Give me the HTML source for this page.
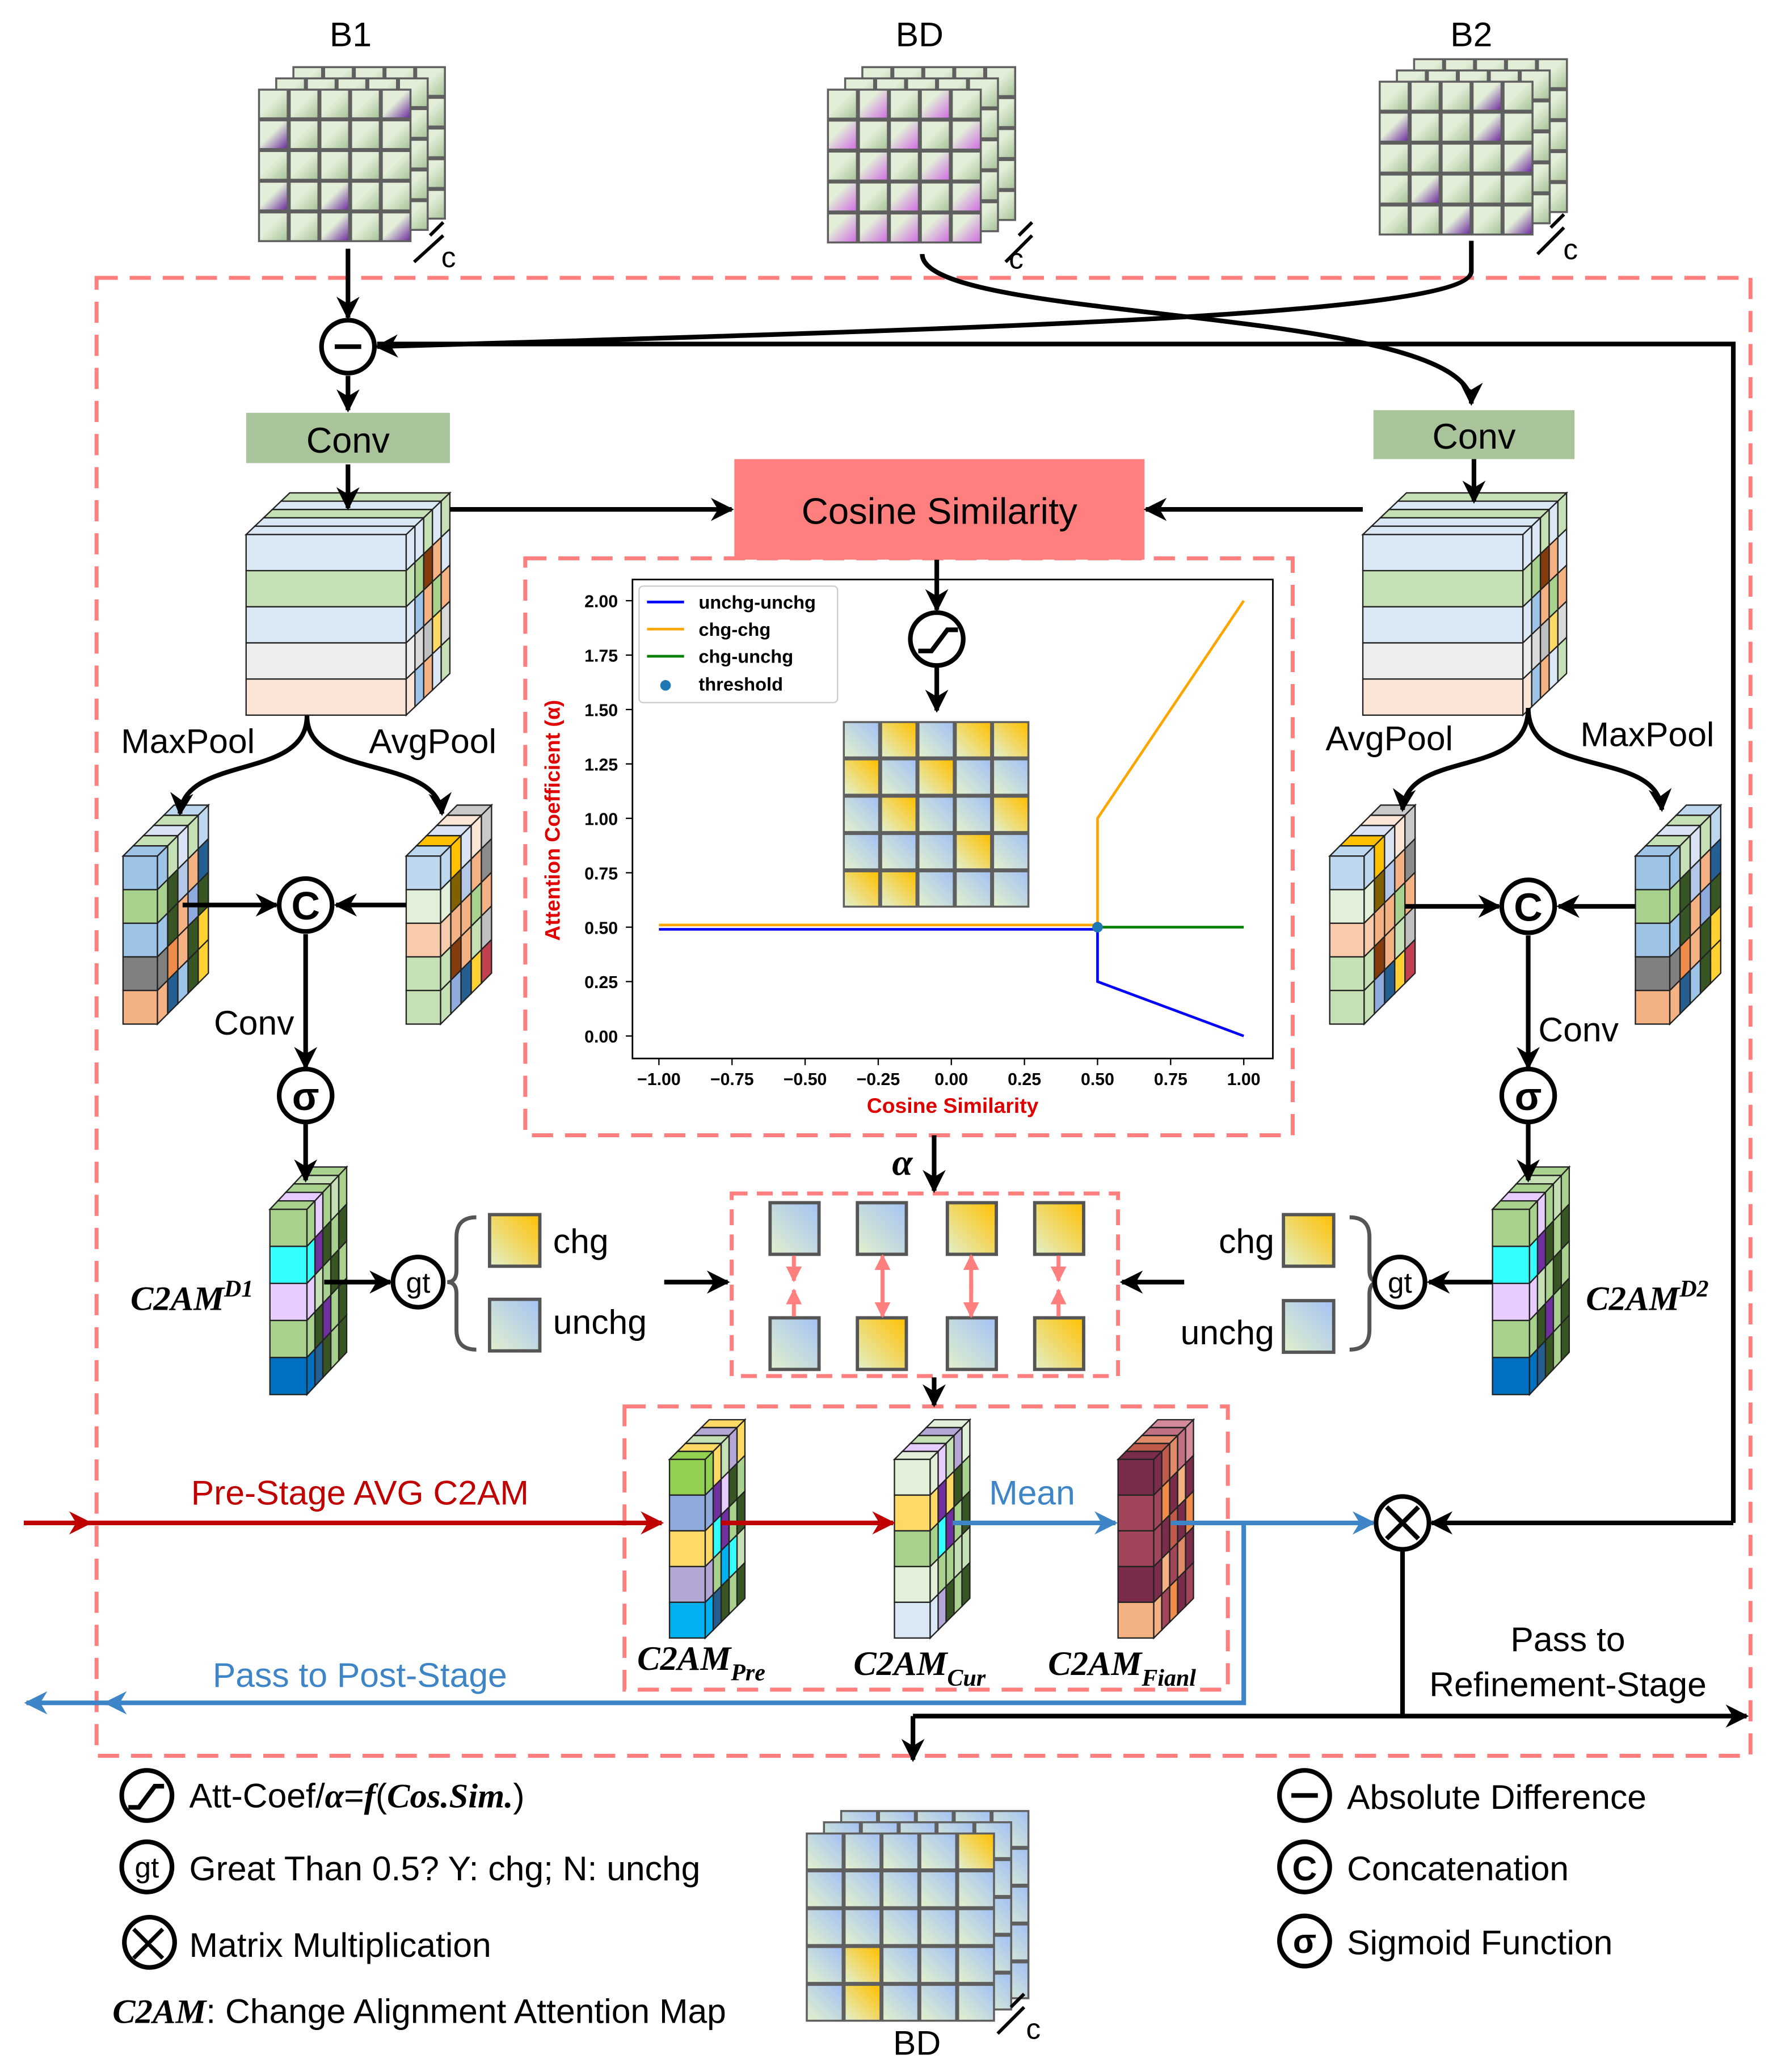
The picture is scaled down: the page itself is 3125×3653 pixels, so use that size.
<!DOCTYPE html>
<html><head><meta charset="utf-8"><style>
html,body{margin:0;padding:0;background:#fff}
svg{display:block}
text{font-family:"Liberation Sans","DejaVu Sans",sans-serif}
.s{font-family:"Liberation Serif",serif;font-style:italic;font-weight:bold}
</style></head><body>
<svg id="v" xmlns="http://www.w3.org/2000/svg" width="3125" height="3653" viewBox="0 0 1340 1566" preserveAspectRatio="none">
<defs>
<linearGradient id="gG" x1="0" y1="0" x2="1" y2="1"><stop offset="0.45" stop-color="#e2eed8"/><stop offset="1" stop-color="#a9c49a"/></linearGradient>
<linearGradient id="gP" x1="0" y1="0" x2="1" y2="1"><stop offset="0.45" stop-color="#e2eed8"/><stop offset="1" stop-color="#7030a0"/></linearGradient>
<linearGradient id="gM" x1="0" y1="0" x2="1" y2="1"><stop offset="0.35" stop-color="#e2eed8"/><stop offset="1" stop-color="#d070e0"/></linearGradient>
<linearGradient id="gY" x1="0" y1="1" x2="1" y2="0"><stop offset="0" stop-color="#e2f0cc"/><stop offset="1" stop-color="#ffc000"/></linearGradient>
<linearGradient id="gB" x1="0" y1="1" x2="1" y2="0"><stop offset="0" stop-color="#e2f0cc"/><stop offset="1" stop-color="#a4c2f4"/></linearGradient>
<marker id="ab" viewBox="0 0 10 10" refX="9" refY="5" markerWidth="5" markerHeight="5" orient="auto-start-reverse"><path d="M0,0 L10,5 L0,10 L3,5z" fill="#000"/></marker>
<marker id="ar" viewBox="0 0 10 10" refX="9" refY="5" markerWidth="5" markerHeight="5" orient="auto-start-reverse"><path d="M0,0 L10,5 L0,10 L3,5z" fill="#c00000"/></marker>
<marker id="au" viewBox="0 0 10 10" refX="9" refY="5" markerWidth="5" markerHeight="5" orient="auto-start-reverse"><path d="M0,0 L10,5 L0,10 L3,5z" fill="#3d85c6"/></marker>
<marker id="ap" viewBox="0 0 10 10" refX="9" refY="5" markerWidth="4" markerHeight="4" orient="auto-start-reverse"><path d="M0,0 L10,5 L0,10z" fill="#ff7f7f"/></marker>
</defs>
<g id="shapes"></g>
<g id="lines" fill="none" stroke="#000" stroke-width="3.5">
<rect x="73" y="210" width="1250" height="1117" stroke="#ff7f7f" stroke-dasharray="16 9" stroke-width="3"/>
<rect x="397" y="422" width="580" height="436" stroke="#ff7f7f" stroke-dasharray="16 9" stroke-width="3"/>
<rect x="553" y="902" width="292" height="138" stroke="#ff7f7f" stroke-dasharray="12 7" stroke-width="3"/>
<rect x="472" y="1063" width="456" height="214" stroke="#ff7f7f" stroke-dasharray="16 9" stroke-width="3"/>
<path d="M263 188 V240" marker-end="url(#ab)"/>
<path d="M263 284 V310" marker-end="url(#ab)"/>
<path d="M263 351 V384" marker-end="url(#ab)"/>
<path d="M1114 347 V379" marker-end="url(#ab)"/>
<path d="M697 192 C697 245,1112 230,1112 305" marker-end="url(#ab)"/>
<path d="M1112 182 V205 C1112 238,760 248,285 262" marker-end="url(#ab)"/>
<path d="M1310 1151 V260 H285"/>
<path d="M1310 1151 H1082" marker-end="url(#ab)"/>
<path d="M340 385 H553" marker-end="url(#ab)"/>
<path d="M1030 385 H866" marker-end="url(#ab)"/>
<path d="M708 423 V461" marker-end="url(#ab)"/>
<path d="M708 503 V537" marker-end="url(#ab)"/>
<path d="M232 541 C232 590,140 570,136 615" marker-end="url(#ab)"/>
<path d="M232 541 C232 590,330 570,334 615" marker-end="url(#ab)"/>
<path d="M1155 535 C1155 590,1064 565,1060 612" marker-end="url(#ab)"/>
<path d="M1155 535 C1155 590,1252 565,1256 612" marker-end="url(#ab)"/>
<path d="M138 684 H209" marker-end="url(#ab)"/>
<path d="M307 684 H254" marker-end="url(#ab)"/>
<path d="M1062 685 H1133" marker-end="url(#ab)"/>
<path d="M1236 685 H1178" marker-end="url(#ab)"/>
<path d="M231 706 V807" marker-end="url(#ab)"/>
<path d="M1155 707 V807" marker-end="url(#ab)"/>
<path d="M231 849 V892" marker-end="url(#ab)"/>
<path d="M1155 849 V892" marker-end="url(#ab)"/>
<path d="M245 969 H295" marker-end="url(#ab)"/>
<path d="M1128 969 H1080" marker-end="url(#ab)"/>
<path d="M502 969 H550" marker-end="url(#ab)"/>
<path d="M895 969 H848" marker-end="url(#ab)"/>
<path d="M706 858 V900" marker-end="url(#ab)"/>
<path d="M706 1041 V1062" marker-end="url(#ab)"/>
<path d="M360 920 Q345 920,345 935 V960 Q345 969,338 969 Q345 969,345 978 V1005 Q345 1020,360 1020" stroke="#555" stroke-width="3"/>
<path d="M1020 920 Q1035 920,1035 935 V960 Q1035 969,1042 969 Q1035 969,1035 978 V1005 Q1035 1020,1020 1020" stroke="#555" stroke-width="3"/>
<path d="M18 1151 H68" stroke="#c00000" marker-end="url(#ar)"/>
<path d="M68 1151 H500" stroke="#c00000" marker-end="url(#ar)"/>
<path d="M545 1151 H675" stroke="#c00000" marker-end="url(#ar)"/>
<path d="M720 1151 H843" stroke="#3d85c6" marker-end="url(#au)"/>
<path d="M885 1151 H1038" stroke="#3d85c6" marker-end="url(#au)"/>
<path d="M940 1151 V1287 H20" stroke="#3d85c6" marker-end="url(#au)"/>
<path d="M90 1287 H80" stroke="#3d85c6" marker-end="url(#au)"/>
<path d="M1060 1172 V1297"/>
<path d="M690 1297 H1320" marker-end="url(#ab)"/>
<path d="M690 1297 V1330" marker-end="url(#ab)"/>
<path d="M313 198 L335 178 M325 178 L335 168 M760 198 L780 178 M770 178 L780 168 M1162 192 L1182 172 M1172 172 L1182 162 M754 1537 L774 1517 M764 1517 L774 1507" stroke-width="2.5"/>
</g>
<g id="circ" fill="#fff" stroke="#000" stroke-width="3.5">
<circle cx="263" cy="262" r="20"/><circle cx="708" cy="483" r="20"/>
<circle cx="231" cy="684" r="20"/><circle cx="1155" cy="685" r="20"/>
<circle cx="231" cy="828" r="20"/><circle cx="1155" cy="828" r="20"/>
<circle cx="316" cy="969" r="19"/><circle cx="1058" cy="969" r="19"/>
<circle cx="1060" cy="1151" r="20"/>
<circle cx="111" cy="1357" r="19"/><circle cx="111" cy="1411" r="19"/><circle cx="113" cy="1468" r="19"/>
<circle cx="986" cy="1357" r="19"/><circle cx="986" cy="1411" r="19"/><circle cx="986" cy="1467" r="19"/>
</g>
<g fill="none" stroke="#000" stroke-width="3.5">
<path d="M253 262 H273"/><path d="M976 1357 H996" />
<path d="M694 492 H704 L716 476 H724"/><path d="M97 1366 H105 L117 1350 H124"/>
<path d="M1048 1139 L1072 1163 M1072 1139 L1048 1163"/>
<path d="M101 1458 L123 1480 M123 1458 L101 1480" stroke-width="3"/>
</g>
<g id="txt" font-size="26" text-anchor="middle" fill="#000">
<text x="265" y="35">B1</text><text x="695" y="35">BD</text><text x="1112" y="35">B2</text>
<text x="339" y="202" font-size="22">c</text><text x="768" y="203" font-size="22">c</text><text x="1187" y="196" font-size="22">c</text><text x="781" y="1541" font-size="22">c</text>
<text x="142" y="569">MaxPool</text><text x="327" y="569">AvgPool</text>
<text x="1050" y="567">AvgPool</text><text x="1245" y="564">MaxPool</text>
<text x="192" y="782">Conv</text><text x="1193" y="787">Conv</text>
<text x="231" y="695" font-weight="bold" font-size="30">C</text><text x="1155" y="696" font-weight="bold" font-size="30">C</text>
<text x="231" y="839" font-weight="bold" font-size="30">σ</text><text x="1155" y="839" font-weight="bold" font-size="30">σ</text>
<text x="316" y="977" font-size="22">gt</text><text x="1058" y="977" font-size="22">gt</text>
<text x="111" y="1419" font-size="22">gt</text>
<text x="986" y="1421" font-weight="bold" font-size="26">C</text><text x="986" y="1476" font-weight="bold" font-size="26">σ</text>
<text text-anchor="start" x="418" y="947">chg</text><text text-anchor="start" x="418" y="1008">unchg</text>
<text text-anchor="end" x="963" y="947">chg</text><text text-anchor="end" x="963" y="1016">unchg</text>
<text x="272" y="1137" fill="#c00000">Pre-Stage AVG C2AM</text>
<text x="780" y="1137" fill="#3d85c6">Mean</text>
<text x="272" y="1275" fill="#3d85c6">Pass to Post-Stage</text>
<text x="1185" y="1248">Pass to</text><text x="1185" y="1282">Refinement-Stage</text>
<text x="693" y="1553">BD</text>
<text class="s" x="145" y="990" font-size="26">C2AM<tspan dy="-10" font-size="18">D1</tspan></text>
<text class="s" x="1245" y="990" font-size="26">C2AM<tspan dy="-10" font-size="18">D2</tspan></text>
<text class="s" x="530" y="1262" font-size="26">C2AM<tspan dy="8" font-size="18">Pre</tspan></text>
<text class="s" x="695" y="1266" font-size="26">C2AM<tspan dy="8" font-size="18">Cur</tspan></text>
<text class="s" x="848" y="1266" font-size="26">C2AM<tspan dy="8" font-size="18">Fianl</tspan></text>
<text class="s" x="682" y="888" font-size="28">α</text>
<g text-anchor="start">
<text x="143" y="1366">Att-Coef/<tspan class="s">α</tspan>=<tspan class="s">f</tspan>(<tspan class="s">Cos.Sim.</tspan>)</text>
<text x="143" y="1421">Great Than 0.5? Y: chg; N: unchg</text>
<text x="143" y="1479">Matrix Multiplication</text>
<text x="85" y="1529"><tspan class="s">C2AM</tspan>: Change Alignment Attention Map</text>
<text x="1018" y="1367">Absolute Difference</text>
<text x="1018" y="1421">Concatenation</text>
<text x="1018" y="1477">Sigmoid Function</text>
</g>
</g>
</svg>
<script>
var NS="http://www.w3.org/2000/svg",S=document.getElementById("shapes");
function el(t,a,p){var e=document.createElementNS(NS,t);for(var k in a)e.setAttribute(k,a[k]);(p||S).appendChild(e);return e;}
var T=document.getElementById("txt");
function tx(x,y,s,sz,an,col,w){var t=el("text",{x:x,y:y,"font-size":sz,"text-anchor":an||"middle",fill:col||"#000"},T);if(w)t.setAttribute("font-weight",w);t.textContent=s;return t;}
// chart first
var C=el("g",{});
el("rect",{x:478,y:438,width:484,height:362,fill:"#fff",stroke:"#000","stroke-width":1.2},C);
function X(v){return 719+v*221}function Y(v){return 783-v*164.5}
var xt=[-1,-.75,-.5,-.25,0,.25,.5,.75,1],xl=["−1.00","−0.75","−0.50","−0.25","0.00","0.25","0.50","0.75","1.00"];
for(var i=0;i<9;i++){el("path",{d:"M"+X(xt[i])+" 800 v5",stroke:"#000"},C);tx(X(xt[i]),820,xl[i],13,"middle","#000","bold");}
for(var v=0;v<=8;v++){var yv=v*0.25;el("path",{d:"M478 "+Y(yv)+" h-5",stroke:"#000"},C);tx(467,Y(yv)+5,yv.toFixed(2),13,"end","#000","bold");}
tx(720,841,"Cosine Similarity",16,"middle","#e00000","bold");
var yl=tx(0,0,"Attention Coefficient (α)",16,"middle","#e00000","bold");yl.setAttribute("transform","translate(423,620) rotate(-90)");
function pl(pts,c){el("polyline",{points:pts.map(function(p){return X(p[0])+","+Y(p[1])}).join(" "),fill:"none",stroke:c,"stroke-width":2},C);}
pl([[-1,.49],[.5,.49],[.5,.25],[1,0]],"#0000ff");
pl([[-1,.51],[.5,.51],[.5,1],[1,2]],"#ffa500");
pl([[.5,.5],[1,.5]],"#008000");
el("circle",{cx:X(.5),cy:Y(.5),r:4,fill:"#1f77b4"},C);
el("rect",{x:483,y:443,width:150,height:88,fill:"#fff",stroke:"#ccc","stroke-width":1,rx:3},C);
var L=[["unchg-unchg","#0000ff"],["chg-chg","#ffa500"],["chg-unchg","#008000"]];
for(var i=0;i<3;i++){el("path",{d:"M489 "+(455+i*20.5)+" h28",stroke:L[i][1],"stroke-width":2},C);tx(528,460+i*20.5,L[i][0],14,"start","#000","bold");}
el("circle",{cx:503,cy:518,r:4,fill:"#1f77b4"},C);tx(528,522,"threshold",14,"start","#000","bold");

function grid(x,y,n,c,fillFn,layers,dx,dy){
 for(var l=layers-1;l>=0;l--){var ox=x+l*dx,oy=y-l*dy;
  el("rect",{x:ox,y:oy,width:n*c,height:n*c,fill:"#5f5f5f"});
  for(var i=0;i<n;i++)for(var j=0;j<n;j++)el("rect",{x:ox+j*c+1.5,y:oy+i*c+1.5,width:c-3,height:c-3,fill:l==0?fillFn(i,j):fillFn(-1,-1)});}
}
function cube(x,y,fw,rh,slices,sx,sy){
 for(var s=slices.length-1;s>=0;s--){var cols=slices[s],x0=x+s*sx,y0=y-s*sy;
  el("polygon",{points:[x0,y0,x0+sx,y0-sy,x0+fw+sx,y0-sy,x0+fw,y0].join(","),fill:cols[0],stroke:"#222","stroke-width":1});
  for(var r=0;r<cols.length;r++){var yy=y0+r*rh;
   el("rect",{x:x0,y:yy,width:fw,height:rh,fill:cols[r],stroke:"#222","stroke-width":1});
   el("polygon",{points:[x0+fw,yy,x0+fw+sx,yy-sy,x0+fw+sx,yy+rh-sy,x0+fw,yy+rh].join(","),fill:cols[r],stroke:"#222","stroke-width":1});}
 }
}
var p1={"0,4":1,"1,0":1,"3,0":1,"3,2":1,"4,2":1,"4,4":1};
grid(195,67,5,23.2,function(i,j){return i<0?"url(#gG)":(p1[i+","+j]?"url(#gP)":"url(#gG)")},3,13,8.5);
grid(625,67,5,23.4,function(i,j){return i<0?"url(#gG)":((i+j)%2==1||i==4?"url(#gM)":"url(#gG)")},3,13,8.5);
var p2={"0,3":1,"1,0":1,"1,3":1,"2,4":1,"3,1":1,"4,2":1,"4,4":1};
grid(1042,61,5,23.4,function(i,j){return i<0?"url(#gG)":(p2[i+","+j]?"url(#gP)":"url(#gG)")},3,13,8.5);
grid(609,1385,5,28.6,function(i,j){var y={"0,4":1,"3,1":1,"4,1":1};return (i>=0&&y[i+","+j])?"url(#gY)":"url(#gB)"},3,13,8.5);
var my={"0,1":1,"0,3":1,"0,4":1,"1,0":1,"1,2":1,"2,1":1,"2,4":1,"3,3":1,"4,0":1,"4,1":1};
grid(637,545,5,28.2,function(i,j){return my[i+","+j]?"url(#gY)":"url(#gB)"},1,0,0);
el("rect",{x:186,y:312,width:154,height:38,fill:"#a9c49a"});
el("rect",{x:1038,y:310,width:152,height:37,fill:"#a9c49a"});
el("rect",{x:555,y:347,width:310,height:76,fill:"#ff7f7f"});
tx(263,342,"Conv",27);tx(1114,339,"Conv",27);tx(710,396,"Cosine Similarity",28);
var bigL=["#dae8f5","#c5e0b4","#dae8f5","#ededed","#fbe5d6"];
var sl=[bigL,["#dae8f5","#a9d18e","#9dc3e6","#d9d9d9","#9dc3e6"],["#c5e0b4","#843c0c","#f4b183","#bfbfbf","#f4b183"],["#dae8f5","#f4b183","#a9d18e","#ffd966","#dae8f5"],["#c5e0b4","#dae8f5","#f4b183","#d9d9d9","#c5e0b4"]];
cube(186,404,121,27.3,sl,6.6,6.3);
cube(1030,404,121,27.3,sl,6.6,6.3);
var a=[["#9dc3e6","#a9d18e","#9dc3e6","#808080","#f4b183"],["#c5e0b4","#375623","#375623","#f08c4a","#255e91"],["#dae3f3","#b4c7e7","#f4b183","#f4b183","#9dc3e6"],["#c5e0b4","#f4b183","#8faadc","#375623","#375623"],["#bdd7ee","#255e91","#375623","#ffd133","#ffd133"]];
var b=[["#bdd7ee","#e2f0d9","#f8cbad","#c5e0b4","#c5e0b4"],["#ffc000","#806000","#f4b183","#843c0c","#8faadc"],["#dae3f3","#b4c7e7","#f4b183","#f4b183","#255e91"],["#fbe5d6","#f4b183","#a9d18e","#c5e0b4","#ffd133"],["#c9c9c9","#8c8c8c","#f4b183","#bfbfbf","#c0404f"]];
cube(93,647,26,25.4,a,7.7,7.7);cube(307,647,26,25.4,b,7.7,7.7);
cube(1005,647,26,25.4,b,7.7,7.7);cube(1236,647,26,25.4,a,7.7,7.7);
var d=[["#a9d18e","#33ffff","#e6ccff","#a9d18e","#0070c0"],["#e6ccff","#7030a0","#c5e0b4","#375623","#255e91"],["#a9d18e","#375623","#a9d18e","#7030a0","#375623"],["#c5e0b4","#a9d18e","#375623","#a9d18e","#a9d18e"],["#a9d18e","#375623","#a9d18e","#375623","#375623"]];
cube(204,914,28,28,d,6,6.4);cube(1128,914,28,28,d,6,6.4);
var pre=[["#92d050","#8faadc","#ffd966","#b4a7d6","#00b0f0"],["#ffd966","#7030a0","#33ffff","#a9d18e","#255e91"],["#c5e0b4","#e6ccff","#7030a0","#00b0f0","#375623"],["#b4a7d6","#375623","#a9d18e","#33ffff","#a9d18e"],["#ffd966","#a9d18e","#375623","#c5e0b4","#375623"]];
cube(506,1103,27,27,pre,6,6);
var cur=[["#e2f0d9","#ffd966","#a9d18e","#e2f0d9","#dae8f5"],["#e6ccff","#7030a0","#33ffff","#a9d18e","#b4a7d6"],["#c5e0b4","#ffd966","#7030a0","#a9d18e","#375623"],["#b4a7d6","#375623","#a9d18e","#c5e0b4","#a9d18e"],["#e2f0d9","#a9d18e","#375623","#c5e0b4","#375623"]];
cube(676,1103,27,27,cur,6,6);
var fin=[["#7b2c4a","#a0455a","#a0455a","#7b2c4a","#f4b183"],["#c05a4a","#f08c4a","#7b2c4a","#f4b183","#a0455a"],["#e08a6a","#7b2c4a","#c05a4a","#a0455a","#f08c4a"],["#c07080","#f4b183","#7b2c4a","#e08a6a","#7b2c4a"],["#d48a9a","#7b2c4a","#f08c4a","#7b2c4a","#a0455a"]];
cube(845,1103,27,27,fin,6,6);
function sq(x,y,w,h,g){el("rect",{x:x,y:y,width:w,height:h,fill:g,stroke:"#555","stroke-width":2.5});}
sq(370,918,38,39,"url(#gY)");sq(370,982,38,39,"url(#gB)");
sq(970,918,38,39,"url(#gY)");sq(970,983,38,39,"url(#gB)");
var xs=[582,648,716,782],tp=["gB","gB","gY","gY"],bt=["gB","gY","gB","gY"];
for(var i=0;i<4;i++){sq(xs[i],909,37,39,"url(#"+tp[i]+")");sq(xs[i],996,37,39,"url(#"+bt[i]+")");}
function pa(x1,y1,x2,y2){el("path",{d:"M"+x1+" "+y1+" L"+x2+" "+y2,stroke:"#ff7f7f","stroke-width":3,"marker-end":"url(#ap)"});}
pa(600,949,600,968);pa(600,995,600,975);pa(800,949,800,968);pa(800,995,800,975);
pa(667,975,667,949);pa(667,970,667,995);pa(734,975,734,949);pa(734,970,734,995);
</script>
</body></html>
